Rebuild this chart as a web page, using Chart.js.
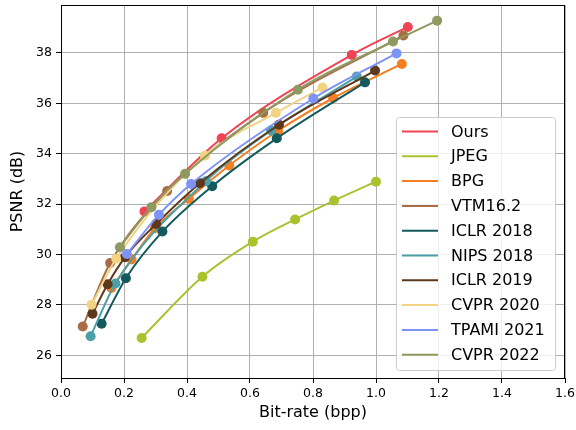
<!DOCTYPE html>
<html>
<head>
<meta charset="utf-8">
<script src="https://cdn.jsdelivr.net/npm/chart.js@4.4.1/dist/chart.umd.min.js"></script>
<style>
  html, body { margin: 0; padding: 0; background: #fff; }
  #wrap { width: 576px; height: 430px; }
</style>
</head>
<body>
<div id="wrap"><canvas id="rd" width="576" height="430"></canvas></div>
<script>
// Rate-distortion points (bpp, dB)
const oursX = [0.265, 0.510, 0.923, 1.101];
const oursY = [31.71, 34.61, 37.92, 39.03];
const jpegX = [0.256, 0.449, 0.609, 0.743, 0.867, 1.000];
const jpegY = [26.69, 29.12, 30.51, 31.39, 32.14, 32.89];
const bpgX = [0.160, 0.224, 0.298, 0.406, 0.534, 0.689, 0.864, 1.082];
const bpgY = [28.67, 29.80, 31.04, 32.21, 33.53, 34.91, 36.21, 37.56];
const vtmX = [0.069, 0.156, 0.337, 0.642, 1.087];
const vtmY = [27.14, 29.66, 32.52, 35.62, 38.69];
const iclr18X = [0.129, 0.206, 0.322, 0.480, 0.685, 0.965];
const iclr18Y = [27.25, 29.06, 30.91, 32.71, 34.61, 36.83];
const nips18X = [0.094, 0.173, 0.460, 0.667, 0.939];
const nips18Y = [26.76, 28.85, 32.91, 34.92, 37.06];
const iclr19X = [0.100, 0.148, 0.203, 0.302, 0.441, 0.692, 0.997];
const iclr19Y = [27.65, 28.82, 29.89, 31.21, 32.83, 35.15, 37.30];
const cvpr20X = [0.097, 0.175, 0.457, 0.682, 0.830];
const cvpr20Y = [28.01, 29.83, 33.92, 35.62, 36.63];
const tpamiX = [0.209, 0.311, 0.413, 0.801, 1.065];
const tpamiY = [30.02, 31.58, 32.80, 36.19, 37.98];
const cvpr22X = [0.187, 0.287, 0.394, 0.752, 1.054, 1.194];
const cvpr22Y = [30.29, 31.88, 33.20, 36.54, 38.45, 39.28];

const labels = ['Ours', 'JPEG', 'BPG', 'VTM16.2', 'ICLR 2018', 'NIPS 2018', 'ICLR 2019', 'CVPR 2020', 'TPAMI 2021', 'CVPR 2022'];
const colors = ['#ef4454', '#a9c22f', '#f57e22', '#a86d44', '#145a5c', '#4aa0a6', '#5c381d', '#f2d383', '#7d93f7', '#8e9a60'];
const xs = [oursX, jpegX, bpgX, vtmX, iclr18X, nips18X, iclr19X, cvpr20X, tpamiX, cvpr22X];
const ys = [oursY, jpegY, bpgY, vtmY, iclr18Y, nips18Y, iclr19Y, cvpr20Y, tpamiY, cvpr22Y];

const FONT = '"DejaVu Sans", sans-serif';

const datasets = labels.map((name, i) => ({
  label: name,
  data: xs[i].map((x, k) => ({ x: x, y: ys[i][k] })),
  borderColor: colors[i],
  backgroundColor: colors[i],
  borderWidth: 2,
  pointRadius: 5,
  pointBorderWidth: 0,
  pointBackgroundColor: colors[i],
  cubicInterpolationMode: 'monotone',
  order: labels.length - i // later series on top, like matplotlib
}));

// full box around the plot
const frame = {
  id: 'frame',
  afterDatasetsDraw(chart) {
    const { ctx, chartArea: a } = chart;
    ctx.save();
    ctx.strokeStyle = '#000';
    ctx.lineWidth = 1;
    ctx.strokeRect(a.left + 0.5, a.top + 0.5, a.right - a.left - 1, a.bottom - a.top);
    ctx.restore();
  }
};

// matplotlib style legend in the lower right
const boxLegend = {
  id: 'boxLegend',
  afterDraw(chart) {
    const ctx = chart.ctx;
    const x0 = 396.5, y0 = 117.5, w = 159, h = 253;
    ctx.save();
    ctx.fillStyle = 'rgba(255,255,255,0.8)';
    ctx.strokeStyle = '#cccccc';
    ctx.lineWidth = 1;
    ctx.beginPath();
    ctx.roundRect(x0, y0, w, h, 3);
    ctx.fill();
    ctx.stroke();
    ctx.font = '16px ' + FONT;
    ctx.textBaseline = 'middle';
    chart.data.datasets.forEach((ds, i) => {
      const cy = 131.5 + i * 24.8;
      ctx.strokeStyle = ds.borderColor;
      ctx.lineWidth = 2;
      ctx.beginPath();
      ctx.moveTo(402, cy);
      ctx.lineTo(438, cy);
      ctx.stroke();
      ctx.fillStyle = '#000';
      ctx.fillText(ds.label, 451, cy + 1);
    });
    ctx.restore();
  }
};

new Chart(document.getElementById('rd'), {
  type: 'line',
  data: { datasets: datasets },
  options: {
    responsive: false,
    devicePixelRatio: 1,
    animation: false,
    layout: { padding: { top: 5, right: 11, left: 0, bottom: 0 } },
    plugins: { legend: { display: false }, tooltip: { enabled: false } },
    scales: {
      x: {
        type: 'linear',
        min: 0,
        max: 1.6,
        afterFit: (s) => { s.height = 52; s.paddingLeft = 0; s.paddingRight = 0; },
        grid: { color: '#b0b0b0', lineWidth: 1, tickColor: '#000', tickLength: 5 },
        border: { color: '#000', width: 1 },
        ticks: {
          stepSize: 0.2,
          padding: 3,
          color: '#000',
          font: { family: FONT, size: 12.5 },
          callback: (v) => v.toFixed(1)
        },
        title: {
          display: true,
          text: 'Bit-rate (bpp)',
          color: '#000',
          font: { family: FONT, size: 16 },
          padding: { top: 0, bottom: 8 }
        }
      },
      y: {
        type: 'linear',
        min: 25.1,
        max: 39.9,
        // the top/bottom ticks sit inside the range, so no extra room is needed
        afterFit: (s) => { s.width = 61; s.paddingTop = 0; s.paddingBottom = 0; },
        grid: { color: '#b0b0b0', lineWidth: 1, tickColor: '#000', tickLength: 5 },
        border: { color: '#000', width: 1 },
        ticks: {
          stepSize: 2,
          includeBounds: false,
          padding: 4,
          color: '#000',
          font: { family: FONT, size: 12.5 }
        },
        title: {
          display: true,
          text: 'PSNR (dB)',
          color: '#000',
          font: { family: FONT, size: 16 },
          padding: { top: 8, bottom: 0 }
        }
      }
    }
  },
  plugins: [frame, boxLegend]
});
</script>
</body>
</html>
